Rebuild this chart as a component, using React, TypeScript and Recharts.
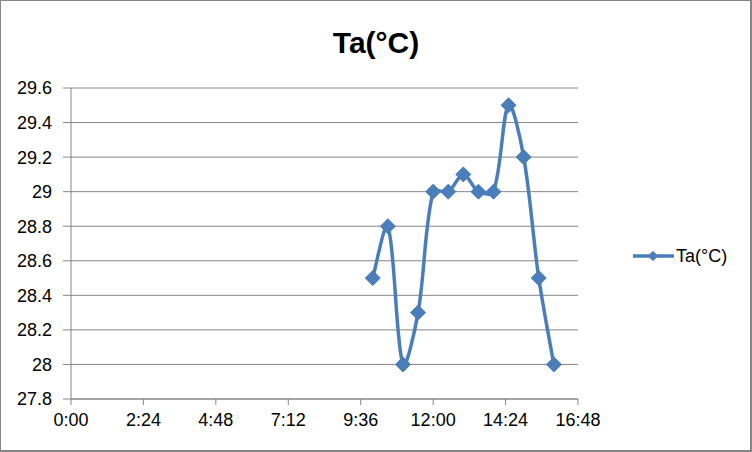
import * as React from "react";
import { LineChart, Line, XAxis, YAxis, CartesianGrid, Legend } from "recharts";

// readings every 30 min, x in minutes after midnight
const times = [600, 630, 660, 690, 720, 750, 780, 810, 840, 870, 900, 930, 960];
const taValues = [28.5, 28.8, 28.0, 28.3, 29.0, 29.0, 29.1, 29.0, 29.0, 29.5, 29.2, 28.5, 28.0];
const xTicks = [0, 144, 288, 432, 576, 720, 864, 1008];
const yTicks = [27.8, 28.0, 28.2, 28.4, 28.6, 28.8, 29.0, 29.2, 29.4, 29.6];
const seriesName = "Ta(°C)";

const BLUE = "#4A7EBB";
const GRID = "#868686";
const FONT = "'Liberation Sans', Arial, sans-serif";

const data = times.map((t, i) => ({ t, ta: taValues[i] }));

const fmtTime = (m: number) => {
  const h = Math.floor(m / 60);
  const mm = Math.round(m % 60);
  return `${h}:${mm < 10 ? "0" : ""}${mm}`;
};

const fmtTemp = (v: number) => String(Number(v.toFixed(1)));

// chord-weighted Catmull-Rom, close to Excel's "smoothed line"
function excelSmooth(context: any) {
  let pts: [number, number][] = [];
  const dist = (a: [number, number], b: [number, number]) => Math.hypot(b[0] - a[0], b[1] - a[1]);
  return {
    areaStart() {},
    areaEnd() {},
    lineStart() {
      pts = [];
    },
    point(x: number, y: number) {
      pts.push([+x, +y]);
    },
    lineEnd() {
      const n = pts.length;
      if (!n) return;
      context.moveTo(pts[0][0], pts[0][1]);
      if (n === 1) return;
      // tangent and chord lengths at each point
      const tan = pts.map((p, i) => {
        const a = pts[Math.max(0, i - 1)];
        const b = pts[Math.min(n - 1, i + 1)];
        return [b[0] - a[0], b[1] - a[1]];
      });
      const ctrl = (i: number, dir: 1 | -1) => {
        const p = pts[i];
        const dPrev = i > 0 ? dist(pts[i - 1], p) : 0;
        const dNext = i < n - 1 ? dist(p, pts[i + 1]) : 0;
        let w: number;
        if (i === 0 || i === n - 1) w = 1 / 6;
        else {
          const tot = dPrev + dNext || 1;
          w = (dir === 1 ? dNext : dPrev) / tot / 3;
        }
        return [p[0] + dir * tan[i][0] * w, p[1] + dir * tan[i][1] * w];
      };
      for (let i = 0; i < n - 1; i++) {
        const c1 = ctrl(i, 1);
        const c2 = ctrl(i + 1, -1);
        context.bezierCurveTo(c1[0], c1[1], c2[0], c2[1], pts[i + 1][0], pts[i + 1][1]);
      }
    },
  };
}

const diamondPath = (cx: number, cy: number, rx: number, ry: number) =>
  `M${cx},${cy - ry}L${cx + rx},${cy}L${cx},${cy + ry}L${cx - rx},${cy}Z`;

const Diamond = (props: any) => {
  const { cx, cy, index } = props;
  if (cx == null || cy == null) return <g key={`d-${index}`} />;
  return <path key={`d-${index}`} d={diamondPath(cx, cy, 7.5, 7.5)} fill={BLUE} stroke={BLUE} strokeWidth={1} />;
};

const LegendContent = () => (
  <div style={{ display: "flex", alignItems: "center", fontFamily: FONT, fontSize: 18, color: "#000", lineHeight: "22px" }}>
    <svg width={44} height={22} style={{ display: "block" }}>
      <line x1={1} y1={11} x2={42} y2={11} stroke={BLUE} strokeWidth={3.5} />
      <path d={diamondPath(21, 11, 5.5, 5)} fill={BLUE} />
    </svg>
    <span>{seriesName}</span>
  </div>
);

export default function App() {
  return (
    <div
      style={{
        position: "absolute",
        left: 0,
        top: 0,
        width: 752,
        height: 452,
        background: "#fff",
        boxSizing: "border-box",
      }}
    >
      <div
        style={{
          position: "absolute",
          left: 0,
          top: 0,
          width: 752,
          height: 452,
          boxSizing: "border-box",
          borderStyle: "solid",
          borderColor: GRID,
          borderWidth: "1px 2px 2px 1px",
          pointerEvents: "none",
          zIndex: 2,
        }}
      />
      <div
        style={{
          position: "absolute",
          left: 0,
          top: 28,
          width: 752,
          textAlign: "center",
          fontFamily: FONT,
          fontWeight: "bold",
          fontSize: 30,
          lineHeight: "30px",
          color: "#000",
        }}
      >
        {seriesName}
      </div>
      <LineChart width={752} height={452} data={data} margin={{ top: 88, right: 174, bottom: 13, left: 0 }}>
        <CartesianGrid vertical={false} stroke={GRID} strokeWidth={1} />
        <XAxis
          type="number"
          dataKey="t"
          domain={[0, 1008]}
          ticks={xTicks}
          tickFormatter={fmtTime}
          interval={0}
          height={40}
          stroke={GRID}
          tickSize={6}
          tickMargin={8}
          tick={{ fill: "#000", fontSize: 18, fontFamily: FONT }}
        />
        <YAxis
          type="number"
          domain={[27.8, 29.6]}
          ticks={yTicks}
          tickFormatter={fmtTemp}
          interval={0}
          width={71}
          stroke={GRID}
          tickSize={8}
          tickMargin={11}
          tick={{ fill: "#000", fontSize: 18, fontFamily: FONT }}
        />
        <Legend
          layout="horizontal"
          align="center"
          verticalAlign="middle"
          wrapperStyle={{ left: 632, top: 245, width: 118 }}
          content={<LegendContent />}
        />
        <Line
          dataKey="ta"
          name={seriesName}
          type={excelSmooth as any}
          stroke={BLUE}
          strokeWidth={3.5}
          dot={Diamond}
          activeDot={false}
          isAnimationActive={false}
        />
      </LineChart>
    </div>
  );
}
